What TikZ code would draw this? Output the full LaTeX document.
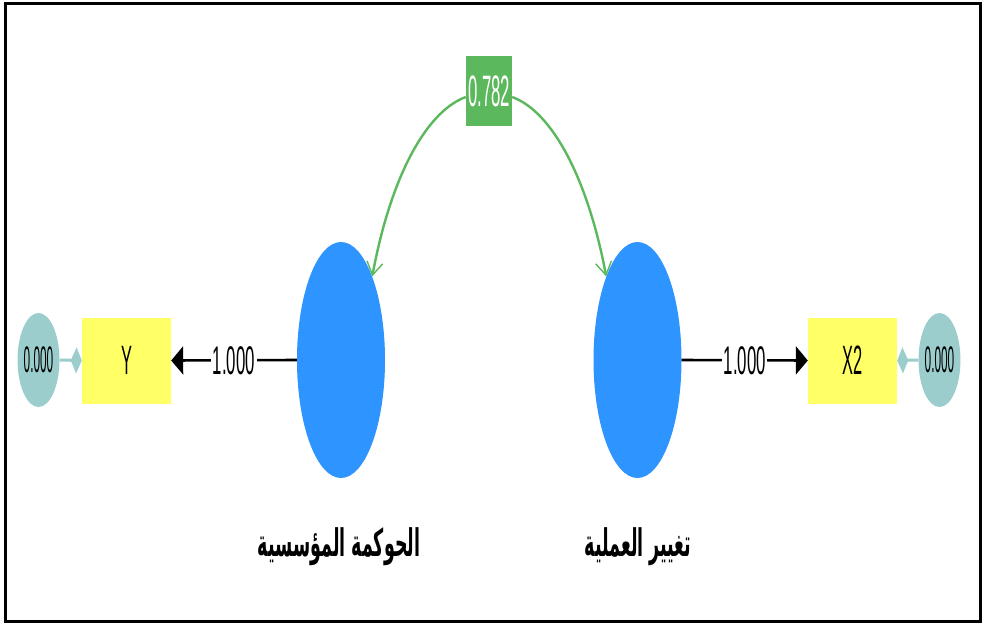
\documentclass[tikz,border=0pt]{standalone}
\usepackage{fontspec}
\setmainfont{Liberation Sans}
\newfontfamily\arabicfont[Script=Arabic]{DejaVu Sans}
\TeXXeTstate=1
\usetikzlibrary{arrows.meta,shapes.geometric}

\definecolor{latentblue}{RGB}{46,148,255}
\definecolor{indyellow}{RGB}{255,255,102}
\definecolor{errteal}{RGB}{155,205,205}
\definecolor{covgreen}{RGB}{92,184,92}

% horizontally condensed text
\newcommand{\cond}[3]{\scalebox{#1}[1]{\fontsize{#2}{#2}\selectfont #3}}

\tikzset{
  latent/.style={ellipse, fill=latentblue, inner sep=0pt,
    minimum width=88pt, minimum height=236pt},
  indicator/.style={rectangle, fill=indyellow, inner sep=0pt,
    minimum width=89pt, minimum height=86pt},
  errnode/.style={ellipse, fill=errteal, inner sep=0pt,
    minimum width=35pt, minimum height=94pt},
  covbox/.style={rectangle, fill=covgreen, inner sep=0pt,
    minimum width=46pt, minimum height=70pt, text=white},
  loading/.style={draw=black, line width=2.6pt,
    -{Triangle[length=12pt,width=28pt]}},
  errpath/.style={draw=errteal, line width=3pt,
    -{Diamond[length=11pt,width=26pt]}},
  covpath/.style={draw=covgreen, line width=2.4pt,
    -{Straight Barb[length=13pt,width=16pt,line width=1.4pt]}},
  wlabel/.style={fill=white, inner sep=1.5pt},
  arlabel/.style={inner sep=0pt}
}

\begin{document}
\begin{tikzpicture}[x=1pt,y=-1pt]
\useasboundingbox (0,0) rectangle (983,624);
\fill[white] (0,0) rectangle (983,624);
\draw[line width=3pt] (5,3.5) rectangle (980.5,621.5);

% latent constructs
\node[latent] (gov) at (341,360) {};
\node[latent] (proc) at (637.5,360) {};

% indicators
\node[indicator] (y) at (126.5,360.5) {\cond{0.4}{41}{Y}};
\node[indicator] (x2) at (852.5,360.5) {\cond{0.4}{41}{X2}};

% error terms
\node[errnode] (ey) at (38.5,360) {\cond{0.32}{37}{0.000}};
\node[errnode] (ex) at (939.5,360) {\cond{0.32}{37}{0.000}};

% correlation
\node[covbox] (cov) at (489,91) {\cond{0.38}{44}{0.782}};

% outer loadings
\draw[loading] (gov.west) -- node[wlabel] {\cond{0.42}{40}{1.000}} (y.east);
\draw[loading] (proc.east) -- node[wlabel] {\cond{0.42}{40}{1.000}} (x2.west);

% error links
\draw[errpath] (ey.east) -- (y.west);
\draw[errpath] (ex.west) -- (x2.east);

% correlation arcs
\draw[covpath] ([yshift=-6pt]cov.west) .. controls (425,112) and (390,180) .. (gov.north east);
\draw[covpath] ([yshift=-6pt]cov.east) .. controls (553,112) and (588,180) .. (proc.north west);

% construct names
\node[arlabel] (govname) at (339,547)
  {\scalebox{0.46}[1]{\fontsize{38}{38}\selectfont\arabicfont\bfseries\beginR الحوكمة المؤسسية\endR}};
\node[arlabel] (procname) at (638,547)
  {\scalebox{0.46}[1]{\fontsize{38}{38}\selectfont\arabicfont\bfseries\beginR تغيير العملية\endR}};
\end{tikzpicture}
\end{document}
